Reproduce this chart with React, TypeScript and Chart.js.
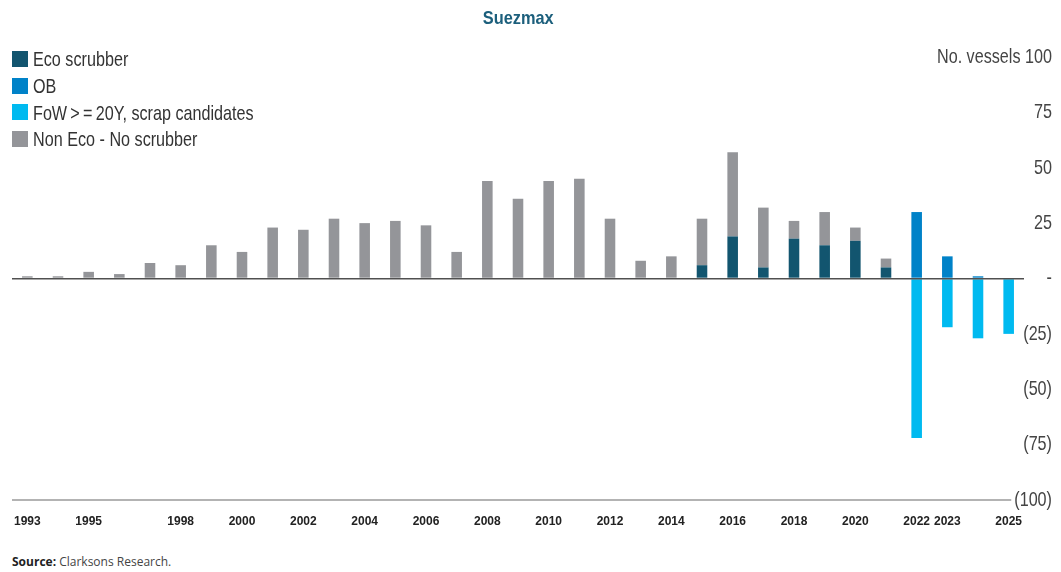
import React, { useEffect, useRef } from "react";
import { Chart, registerables } from "chart.js";

Chart.register(...registerables);

const years = [
  "1993", "1994", "1995", "1996", "1997", "1998", "1999", "2000", "2001", "2002",
  "2003", "2004", "2005", "2006", "2007", "2008", "2009", "2010", "2011", "2012",
  "2013", "2014", "2015", "2016", "2017", "2018", "2019", "2020", "2021", "2022",
  "2023", "2024", "2025",
];

const shownYears = [
  "1993", "1995", "1998", "2000", "2002", "2004", "2006", "2008", "2010", "2012",
  "2014", "2016", "2018", "2020", "2022", "2023", "2025",
];

const ecoScrubber = [
  null, null, null, null, null, null, null, null, null, null,
  null, null, null, null, null, null, null, null, null, null,
  null, null, 6, 19, 5, 18, 15, 17, 5, null,
  null, null, null,
];

const orderBook = [
  null, null, null, null, null, null, null, null, null, null,
  null, null, null, null, null, null, null, null, null, null,
  null, null, null, null, null, null, null, null, null, 30,
  10, 1, null,
];

const scrapCandidates = [
  null, null, null, null, null, null, null, null, null, null,
  null, null, null, null, null, null, null, null, null, null,
  null, null, null, null, null, null, null, null, null, -72,
  -22, -27, -25,
];

const nonEcoNoScrubber = [
  1, 1, 3, 2, 7, 6, 15, 12, 23, 22,
  27, 25, 26, 24, 12, 44, 36, 44, 45, 27,
  8, 10, 21, 38, 27, 8, 15, 6, 4, null,
  null, null, null,
];

const yTickValues = [100, 75, 50, 25, 0, -25, -50, -75, -100];

const seriesNames = ["Eco scrubber", "OB", "FoW>=20Y, scrap candidates", "Non Eco - No scrubber"];
const seriesLegendText = ["Eco scrubber", "OB", "FoW\u2009>\u2009=\u200920Y, scrap candidates", "Non Eco - No scrubber"];
const seriesColors = ["#12556f", "#0082c8", "#00baf0", "#949599"];

const SANS = '"Liberation Sans", Arial, sans-serif';
const SQUEEZE = 0.77;

function yLabel(v: number): string {
  if (v === 100) return "No. vessels 100";
  if (v === 0) return "-";
  if (v < 0) return "(" + Math.abs(v) + ")";
  return String(v);
}

const yLabelPlugin = {
  id: "yLabelPlugin",
  afterDraw(chart: any) {
    const ctx = chart.ctx;
    const y = chart.scales.y;
    const area = chart.chartArea;
    const xRight = chart.width - 1;
    ctx.save();
    ctx.font = "21px " + SANS;
    ctx.fillStyle = "#444";
    ctx.textAlign = "right";
    ctx.textBaseline = "middle";
    let bottomLabelWidth = 0;
    yTickValues.forEach((v) => {
      const py = y.getPixelForValue(v);
      const t = yLabel(v);
      ctx.save();
      ctx.translate(xRight, py);
      ctx.scale(SQUEEZE, 1);
      ctx.fillText(t, 0, 0);
      ctx.restore();
      if (v === -100) bottomLabelWidth = ctx.measureText(t).width * SQUEEZE;
    });
    const by = y.getPixelForValue(-100);
    ctx.strokeStyle = "#9a9a9a";
    ctx.lineWidth = 1.5;
    ctx.beginPath();
    ctx.moveTo(area.left, by);
    ctx.lineTo(xRight - bottomLabelWidth - 3, by);
    ctx.stroke();
    ctx.restore();
  },
};

export default function App() {
  const canvasRef = useRef<HTMLCanvasElement | null>(null);

  useEffect(() => {
    document.body.style.marginBottom = "0px";
    if (!canvasRef.current) return;
    const datasets = [ecoScrubber, orderBook, scrapCandidates, nonEcoNoScrubber].map((data, i) => ({
      label: seriesNames[i],
      data,
      backgroundColor: seriesColors[i],
      borderWidth: 0,
      categoryPercentage: 1,
      barPercentage: 0.345,
    }));
    const chart = new Chart(canvasRef.current, {
      type: "bar",
      data: { labels: years, datasets },
      plugins: [yLabelPlugin],
      options: {
        animation: false,
        responsive: true,
        maintainAspectRatio: false,
        layout: { padding: { left: 4, top: 49, right: 0, bottom: 0 } },
        plugins: {
          legend: { display: false },
          title: { display: false },
          tooltip: { enabled: false },
        },
        scales: {
          x: {
            stacked: true,
            grid: { display: false, drawTicks: false },
            border: { display: false },
            ticks: {
              autoSkip: false,
              maxRotation: 0,
              padding: 14,
              color: "#222",
              font: { family: SANS, size: 12, weight: "bold" },
              callback: function (this: any, value: any) {
                const lab = years[value as number];
                return shownYears.includes(lab) ? lab : "";
              },
            },
            afterFit: (scale: any) => {
              scale.height = 33;
              scale.paddingLeft = 0;
              scale.paddingRight = 0;
            },
          },
          y: {
            stacked: true,
            position: "right",
            min: -100,
            max: 100,
            afterBuildTicks: (scale: any) => {
              scale.ticks = yTickValues.map((v) => ({ value: v }));
            },
            grid: {
              drawTicks: false,
              z: 1,
              lineWidth: 1.6,
              color: (ctx: any) => (ctx.tick && ctx.tick.value === 0 ? "#505050" : "rgba(0,0,0,0)"),
            },
            border: { display: false },
            ticks: { display: false },
            afterFit: (scale: any) => {
              scale.width = 29;
              scale.paddingTop = 0;
              scale.paddingBottom = 0;
            },
          },
        },
      },
    });
    return () => chart.destroy();
  }, []);

  const squeezed = (origin: string): React.CSSProperties => ({
    display: "inline-block",
    transform: `scaleX(${SQUEEZE})`,
    transformOrigin: origin,
    whiteSpace: "nowrap",
  });

  return (
    <div style={{ position: "relative", width: 1045, height: 564 }}>
      <div style={{ position: "absolute", left: 0, top: 0, width: 1045, height: 525 }}>
        <canvas ref={canvasRef} />
      </div>
      <div
        style={{
          position: "absolute",
          left: 0,
          top: 0,
          width: 1020,
          textAlign: "center",
          fontFamily: SANS,
          fontWeight: "bold",
          fontSize: 19,
          lineHeight: "20px",
          color: "#1c5f7c",
        }}
      >
        <span style={{ display: "inline-block", transform: "scaleX(0.86)", transformOrigin: "center" }}>Suezmax</span>
      </div>
      <div style={{ position: "absolute", left: 4, top: 37.5 }}>
        {seriesLegendText.map((t, i) => (
          <div key={t} style={{ display: "flex", alignItems: "center", height: 26.7 }}>
            <span style={{ display: "inline-block", width: 16, height: 16, background: seriesColors[i], marginRight: 5, flex: "none" }} />
            <span style={{ fontFamily: SANS, fontSize: 21, color: "#333", lineHeight: "21px", ...squeezed("left center") }}>{t}</span>
          </div>
        ))}
      </div>
      <div
        style={{
          position: "absolute",
          left: 4,
          top: 547,
          fontFamily: '"Open Sans", "Noto Sans", sans-serif',
          fontSize: 12,
          lineHeight: "14px",
          color: "#444",
          whiteSpace: "nowrap",
        }}
      >
        <b style={{ color: "#222" }}>Source:</b> Clarksons Research.
      </div>
    </div>
  );
}
